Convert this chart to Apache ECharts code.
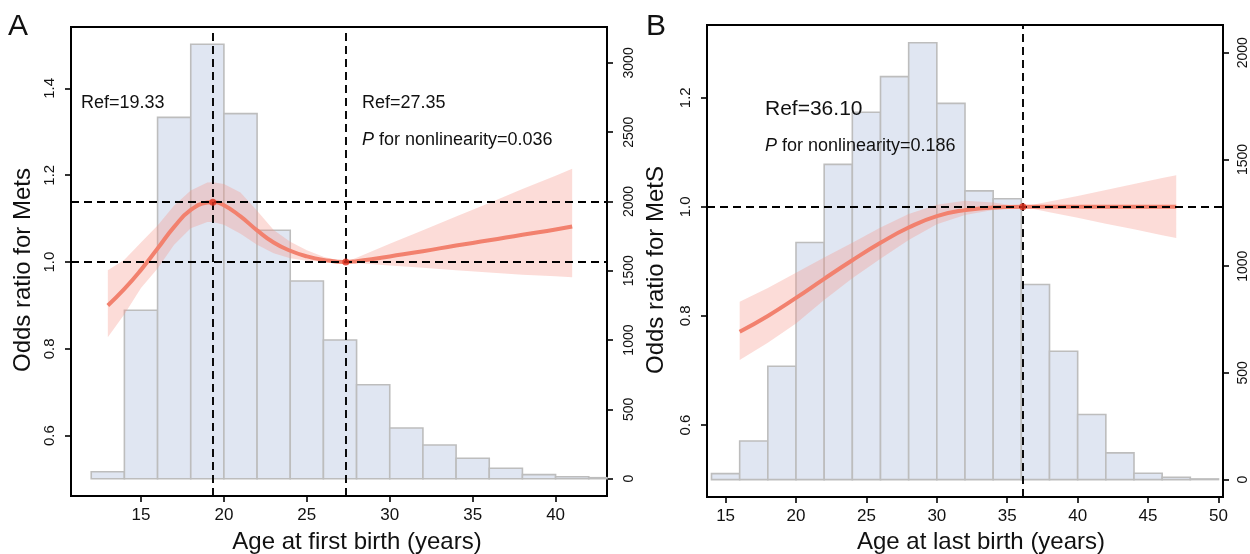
<!DOCTYPE html>
<html>
<head>
<meta charset="utf-8">
<script src="https://cdn.jsdelivr.net/npm/echarts@6/dist/echarts.min.js"></script>
<style>
  html, body { margin: 0; padding: 0; background: #fff; }
  #chart { width: 1250px; height: 554px; }
</style>
</head>
<body>
<div id="chart"></div>
<script>
// ---- panel A: age at first birth ----
const binEdgesA = [12, 14, 16, 18, 20, 22, 24, 26, 28, 30, 32, 34, 36, 38, 40, 42, 44];
const countsA = [50, 1215, 2607, 3134, 2634, 1792, 1426, 1001, 678, 366, 243, 147, 75, 29, 14, 7];
const ageA = [13, 14, 15, 16, 17, 18, 19, 19.33, 20, 21, 22, 23, 24, 25, 26, 27.35, 28, 29, 30, 32, 34, 36, 38, 40, 41];
const orA = [0.900, 0.938, 0.982, 1.031, 1.081, 1.120, 1.137, 1.138, 1.131, 1.105, 1.073, 1.045, 1.026, 1.013, 1.005, 1.000, 1.002, 1.007, 1.013, 1.025, 1.038, 1.050, 1.063, 1.075, 1.082];
const loA = [0.827, 0.880, 0.940, 0.985, 1.040, 1.078, 1.092, 1.092, 1.086, 1.065, 1.040, 1.020, 1.009, 1.003, 1.001, 1.000, 0.998, 0.995, 0.992, 0.987, 0.981, 0.976, 0.971, 0.967, 0.965];
const hiA = [0.981, 1.005, 1.045, 1.084, 1.130, 1.165, 1.183, 1.184, 1.180, 1.160, 1.118, 1.074, 1.047, 1.027, 1.012, 1.000, 1.010, 1.026, 1.042, 1.073, 1.105, 1.136, 1.168, 1.199, 1.215];
const refA = [[19.33, 1.138], [27.35, 1.0]];
const ticksXA = [15, 20, 25, 30, 35, 40];
const ticksOrA = [0.6, 0.8, 1.0, 1.2, 1.4];
const ticksCountA = [0, 500, 1000, 1500, 2000, 2500, 3000];

// ---- panel B: age at last birth ----
const binEdgesB = [14, 16, 18, 20, 22, 24, 26, 28, 30, 32, 34, 36, 38, 40, 42, 44, 46, 48, 50];
const countsB = [28, 181, 531, 1111, 1477, 1721, 1888, 2047, 1763, 1353, 1316, 914, 601, 305, 125, 30, 11, 3];
const ageB = [16, 18, 20, 22, 24, 26, 28, 30, 32, 34, 36.1, 38, 40, 42, 44, 46, 47];
const orB = [0.771, 0.800, 0.833, 0.868, 0.902, 0.934, 0.962, 0.983, 0.994, 0.999, 1.000, 1.000, 1.000, 1.000, 1.000, 1.000, 1.000];
const loB = [0.719, 0.751, 0.786, 0.829, 0.869, 0.905, 0.939, 0.968, 0.985, 0.994, 1.000, 0.990, 0.980, 0.969, 0.959, 0.948, 0.943];
const hiB = [0.826, 0.851, 0.879, 0.907, 0.934, 0.962, 0.987, 1.004, 1.011, 1.008, 1.000, 1.010, 1.020, 1.031, 1.042, 1.053, 1.058];
const refB = [[36.1, 1.0]];
const ticksXB = [15, 20, 25, 30, 35, 40, 45, 50];
const ticksOrB = [0.6, 0.8, 1.0, 1.2];
const ticksCountB = [0, 500, 1000, 1500, 2000];

const FONT = "'Liberation Sans', Arial, Helvetica, sans-serif";
const LINE_COLOR = '#F2816E';
const BAND_COLOR = 'rgba(246,150,138,0.33)';

function histData(edges, counts) {
  return counts.map((c, i) => [edges[i], edges[i + 1], c]);
}

function histItem(params, api) {
  const p0 = api.coord([api.value(0), api.value(2)]);
  const p1 = api.coord([api.value(1), 0]);
  const cs = params.coordSys;
  const rect = echarts.graphic.clipRectByRect(
    { x: p0[0], y: p0[1], width: p1[0] - p0[0], height: p1[1] - p0[1] },
    { x: cs.x, y: cs.y, width: cs.width, height: cs.height }
  );
  if (!rect) return;
  return {
    type: 'rect',
    shape: rect,
    style: { fill: '#E0E6F2', stroke: '#BDBDBD', lineWidth: 1.6 }
  };
}

function bandItem(xs, lo, hi) {
  return function (params, api) {
    if (params.dataIndex !== 0) return;
    const pts = [];
    for (let i = 0; i < xs.length; i++) pts.push(api.coord([xs[i], hi[i]]));
    for (let i = xs.length - 1; i >= 0; i--) pts.push(api.coord([xs[i], lo[i]]));
    return { type: 'polygon', shape: { points: pts }, style: { fill: BAND_COLOR } };
  };
}

function xAxisFor(grid, min, max, ticks) {
  return {
    type: 'value', gridIndex: grid, min: min, max: max,
    axisLine: { show: true, onZero: false, lineStyle: { color: '#000', width: 2 } },
    axisTick: { show: true, customValues: ticks, length: 6, lineStyle: { color: '#000', width: 1.6 } },
    axisLabel: { customValues: ticks, fontSize: 17, color: '#111', fontFamily: FONT, margin: 11 },
    splitLine: { show: false }
  };
}

function yAxisFor(grid, pos, min, max, ticks, digits, size, margin) {
  return {
    type: 'value', gridIndex: grid, position: pos, min: min, max: max,
    axisLine: { show: true, onZero: false, lineStyle: { color: '#000', width: 2 } },
    axisTick: { show: true, customValues: ticks, length: 6, lineStyle: { color: '#000', width: 1.6 } },
    axisLabel: {
      customValues: ticks, fontSize: size, color: '#111', fontFamily: FONT, rotate: 90, margin: margin,
      formatter: v => digits ? v.toFixed(digits) : String(v)
    },
    splitLine: { show: false }
  };
}

function panelSeries(k, edges, counts, xs, or, lo, hi, refs, hLines, vLines) {
  const lines = vLines.map(v => ({ xAxis: v })).concat(hLines.map(v => ({ yAxis: v })));
  return [
    {
      type: 'custom', xAxisIndex: k, yAxisIndex: 2 * k + 1, z: 1,
      renderItem: histItem, data: histData(edges, counts), silent: true
    },
    {
      type: 'custom', xAxisIndex: k, yAxisIndex: 2 * k, z: 2,
      renderItem: bandItem(xs, lo, hi), data: xs.map((x, i) => [x, lo[i], hi[i]]), silent: true
    },
    {
      type: 'line', xAxisIndex: k, yAxisIndex: 2 * k, z: 3,
      data: xs.map((x, i) => [x, or[i]]), smooth: 0.5, symbol: 'none',
      lineStyle: { color: LINE_COLOR, width: 4 }, silent: true
    },
    {
      type: 'scatter', xAxisIndex: k, yAxisIndex: 2 * k, z: 5,
      data: refs, symbolSize: 7, itemStyle: { color: '#E0321F' }, silent: true,
      markLine: {
        silent: true, symbol: ['none', 'none'], label: { show: false },
        emphasis: { disabled: true },
        lineStyle: { color: '#000', type: [8, 5], width: 1.9 },
        data: lines
      }
    }
  ];
}

function txt(text, x, y, size, align, rotation) {
  return {
    type: 'text', x: x, y: y, z: 100, silent: true, rotation: rotation || 0,
    style: {
      text: text, fontSize: size, fontFamily: FONT, fill: '#111',
      align: align || 'left', verticalAlign: 'middle',
      rich: { i: { fontStyle: 'italic', fontSize: size, fontFamily: FONT, fill: '#111' } }
    }
  };
}

const chart = echarts.init(document.getElementById('chart'));
chart.setOption({
  animation: false,
  backgroundColor: '#fff',
  grid: [
    { left: 71, top: 27, width: 536, height: 469, show: true, borderColor: '#000', borderWidth: 2, backgroundColor: 'transparent' },
    { left: 707, top: 25, width: 520, height: 472, show: true, borderColor: '#000', borderWidth: 2, backgroundColor: 'transparent' }
  ],
  xAxis: [
    xAxisFor(0, 10.78, 43.1, ticksXA),
    xAxisFor(1, 13.68, 50.32, ticksXB)
  ],
  yAxis: [
    yAxisFor(0, 'left', 0.461, 1.5415, ticksOrA, 1, 15, 14),
    yAxisFor(0, 'right', -125, 3259, ticksCountA, 0, 14, 15),
    yAxisFor(1, 'left', 0.468, 1.3334, ticksOrB, 1, 15, 14),
    yAxisFor(1, 'right', -81.6, 2130, ticksCountB, 0, 14, 13)
  ],
  series: [].concat(
    panelSeries(0, binEdgesA, countsA, ageA, orA, loA, hiA, refA, [1.138, 1.0], [19.33, 27.35]),
    panelSeries(1, binEdgesB, countsB, ageB, orB, loB, hiB, refB, [1.0], [36.1])
  ),
  graphic: [
    txt('A', 8, 27, 30),
    txt('B', 646, 27, 30),
    txt('Ref=19.33', 81, 103, 18),
    txt('Ref=27.35', 362, 103, 18),
    txt('{i|P} for nonlinearity=0.036', 362, 140, 18),
    txt('Ref=36.10', 765, 109, 21),
    txt('{i|P} for nonlinearity=0.186', 765, 146, 18),
    txt('Odds ratio for Mets', 23, 270, 24, 'center', Math.PI / 2),
    txt('Odds ratio for MetS', 656, 270, 24, 'center', Math.PI / 2),
    txt('Age at first birth (years)', 357, 542, 24, 'center'),
    txt('Age at last birth (years)', 981, 542, 24, 'center')
  ]
});
</script>
</body>
</html>
